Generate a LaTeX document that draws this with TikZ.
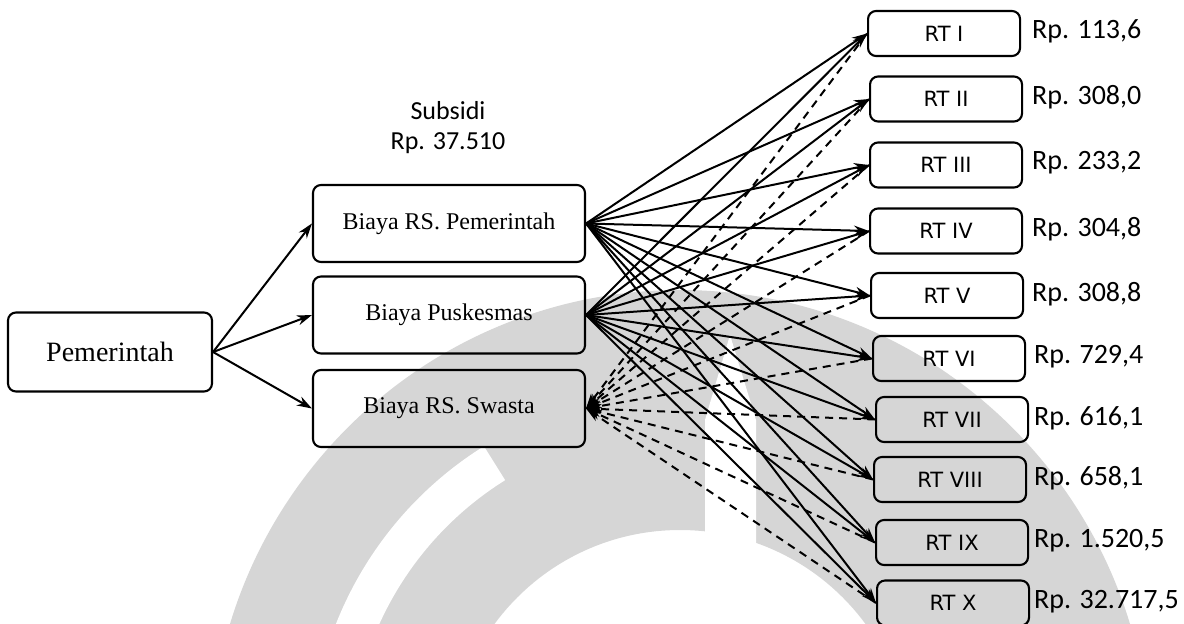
\documentclass[tikz,border=0pt]{standalone}
\usepackage{fontspec}
\setmainfont{Liberation Serif}
\newfontfamily\valfont{Carlito}
\newfontfamily\rtfont{DejaVu Sans}
\usetikzlibrary{arrows.meta}
\begin{document}
\begin{tikzpicture}[x=1pt,y=-1pt,
  box/.style={draw, line width=2.1pt, rounded corners=8pt, inner sep=0pt, align=center},
  costbox/.style={box, minimum width=272pt, minimum height=77pt, font=\fontsize{24}{27}\selectfont},
  rtbox/.style={box, minimum width=152pt, minimum height=45pt, anchor=west, font=\rtfont\fontsize{21}{24}\selectfont},
  val/.style={anchor=west, inner sep=0pt, font=\valfont\fontsize{28}{32}\selectfont},
  flow/.style={line width=2pt, -{Stealth[length=15pt,width=10pt]}},
  back/.style={flow, dash pattern=on 8pt off 6pt},
  emblem/.style={fill=black!16}
]
\useasboundingbox (0,0) rectangle (1184,624);

% faint emblem in the background
\begin{scope}
  \clip (0,0) rectangle (1184,624);
  \fill[emblem, even odd rule]
    (680,760) circle[radius=470pt]
    (680,760) circle[radius=230pt];
  \fill[white] (680,760) ++(122:370pt)
    arc[start angle=122, end angle=180, radius=370pt]
    -- ++(40pt,0pt)
    arc[start angle=180, end angle=122, radius=330pt] -- cycle;
  \fill[white] (730,335) -- (756,420) -- (756,545)
    -- (705,545) -- (705,420) -- cycle;
\end{scope}

% source and cost centres
\node[box, minimum width=204pt, minimum height=79pt, font=\fontsize{28}{32}\selectfont] (pem) at (110,352) {Pemerintah};
\node[costbox, fill=white] (rsp) at (449,223.5) {Biaya RS. Pemerintah};
\node[costbox] (pus) at (449,315) {Biaya Puskesmas};
\node[costbox] (rss) at (449,408.5) {Biaya RS. Swasta};

\node[font=\valfont\fontsize{26}{30}\selectfont, align=center] (sub) at (448,128) {Subsidi\\Rp. 37.510};

% households
\node[rtbox] (rt1)  at (867,33.5)  {RT I};
\node[rtbox] (rt2)  at (869,99)    {RT II};
\node[rtbox] (rt3)  at (869,165)   {RT III};
\node[rtbox] (rt4)  at (869,231)   {RT IV};
\node[rtbox] (rt5)  at (870,295.5) {RT V};
\node[rtbox] (rt6)  at (872,358.5) {RT VI};
\node[rtbox] (rt7)  at (875,419.5) {RT VII};
\node[rtbox] (rt8)  at (873,479.5) {RT VIII};
\node[rtbox] (rt9)  at (875,542.5) {RT IX};
\node[rtbox] (rt10) at (876,603)   {RT X};

% amounts per household
\node[val] (v1)  at (1032,31)  {Rp. 113,6};
\node[val] (v2)  at (1032,97)  {Rp. 308,0};
\node[val] (v3)  at (1032,163) {Rp. 233,2};
\node[val] (v4)  at (1032,229) {Rp. 304,8};
\node[val] (v5)  at (1032,294) {Rp. 308,8};
\node[val] (v6)  at (1034,357) {Rp. 729,4};
\node[val] (v7)  at (1034,418) {Rp. 616,1};
\node[val] (v8)  at (1034,478) {Rp. 658,1};
\node[val] (v9)  at (1034,541) {Rp. 1.520,5};
\node[val] (v10) at (1034,602) {Rp. 32.717,5};

% government to cost centres
\draw[flow] (pem.east) -- (rsp.west);
\draw[flow] (pem.east) -- (pus.west);
\draw[flow] (pem.east) -- (rss.west);

% cost centres to households, and back to private hospitals
\foreach \i in {1,...,10} {
  \draw[flow] (rsp.east) -- (rt\i.west);
  \draw[flow] (pus.east) -- (rt\i.west);
  \draw[back] (rt\i.west) -- (rss.east);
}
\end{tikzpicture}
\end{document}
